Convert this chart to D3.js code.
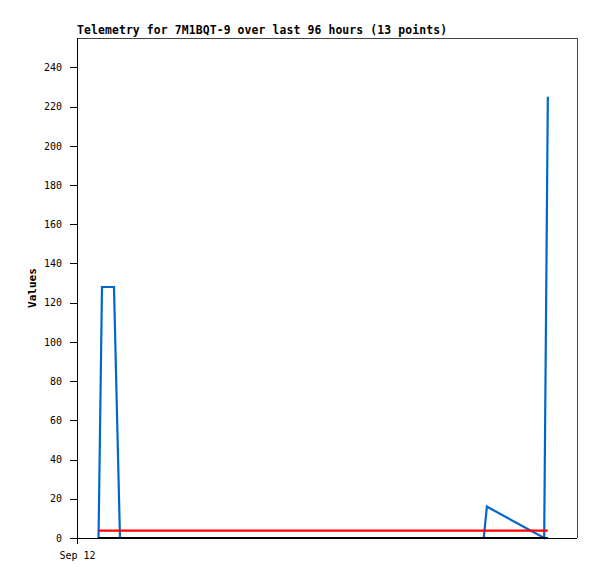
<!DOCTYPE html>
<html>
<head>
<meta charset="utf-8">
<script src="https://cdn.jsdelivr.net/npm/d3@7"></script>
<style>
  body { margin: 0; background: #fff; }
  text { font-family: "DejaVu Sans Mono", "Liberation Mono", monospace; }
</style>
</head>
<body>
<div id="chart"></div>
<script>
// chart size and plot box
var width = 597, height = 579;
var margin = { top: 38, right: 20, bottom: 41, left: 77 };
var plotW = width - margin.left - margin.right,
    plotH = height - margin.top - margin.bottom;

var titleText = "Telemetry for 7M1BQT-9 over last 96 hours (13 points)";
var yLabel = "Values";

// sample times
var times = ["2023-09-12T04:08", "2023-09-12T04:48", "2023-09-12T07:06", "2023-09-12T08:15",
             "2023-09-15T06:06", "2023-09-15T06:42", "2023-09-15T17:42", "2023-09-15T18:24"];
// series values
var blueValues = [0, 128, 128, 0, 0, 16, 0, 225];
var redValues = [3.8, 3.8, 3.8, 3.8, 3.8, 3.8, 3.8, 3.8];
var blackValues = [0, 0, 0, 0, 0, 0, 0, 0];
var yTicks = [0, 20, 40, 60, 80, 100, 120, 140, 160, 180, 200, 220, 240];
var xTicks = ["2023-09-12T00:00"];

var parse = d3.timeParse("%Y-%m-%dT%H:%M");
var dates = times.map(parse);

var svg = d3.select("#chart")
    .append("svg")
    .attr("width", width)
    .attr("height", height);

var g = svg.append("g")
    .attr("transform", "translate(" + margin.left + "," + margin.top + ")");

var x = d3.scaleTime()
    .domain([parse("2023-09-12T00:00"), parse("2023-09-16T00:00")])
    .range([0, plotW]);

var y = d3.scaleLinear()
    .domain([0, 255])
    .range([plotH, 0]);

// frame (top + right)
g.append("path")
    .attr("d", "M0,0.5H" + (plotW + 0.5) + "V" + plotH)
    .attr("fill", "none")
    .attr("stroke", "#444")
    .attr("stroke-width", 1.5)
    .attr("shape-rendering", "crispEdges");

// axes
var yAxis = d3.axisLeft(y).tickValues(yTicks).tickSize(7).tickPadding(8);
var gy = g.append("g").attr("class", "y axis").call(yAxis);

var xAxis = d3.axisBottom(x)
    .tickValues(xTicks.map(parse))
    .tickFormat(d3.timeFormat("%b %d"))
    .tickSize(6).tickPadding(8);
var gx = g.append("g")
    .attr("class", "x axis")
    .attr("transform", "translate(0," + plotH + ")")
    .call(xAxis);

[gx, gy].forEach(function (a) {
    a.select(".domain").attr("stroke", "#000").attr("shape-rendering", "crispEdges");
    a.selectAll(".tick line").attr("stroke", "#000").attr("shape-rendering", "crispEdges");
    a.selectAll(".tick text")
        .attr("font-family", "DejaVu Sans Mono")
        .attr("font-size", "10px")
        .attr("fill", "#000");
});
gx.select(".domain").attr("d", "M0,0.5H" + plotW);
gy.select(".domain").attr("d", "M0.5," + (plotH + 6) + "V0");

// series
var line = d3.line()
    .x(function (d) { return x(d.t); })
    .y(function (d) { return y(d.v); });

function series(vals, color) {
    var pts = dates.map(function (t, i) { return { t: t, v: vals[i] }; });
    g.append("path")
        .datum(pts)
        .attr("d", line)
        .attr("fill", "none")
        .attr("stroke", color)
        .attr("stroke-width", 2.2);
}
series(blueValues, "#0066cc");
series(redValues, "#ff0000");
series(blackValues, "#000000");

// title
svg.append("text")
    .attr("x", margin.left)
    .attr("y", 34)
    .attr("font-size", "11.4px")
    .attr("font-weight", "bold")
    .attr("textLength", 370)
    .attr("lengthAdjust", "spacing")
    .text(titleText);

// y axis label
svg.append("text")
    .attr("transform", "translate(36," + (margin.top + 250) + ") rotate(-90)")
    .attr("text-anchor", "middle")
    .attr("font-size", "11px")
    .attr("font-weight", "bold")
    .text(yLabel);
</script>
</body>
</html>
